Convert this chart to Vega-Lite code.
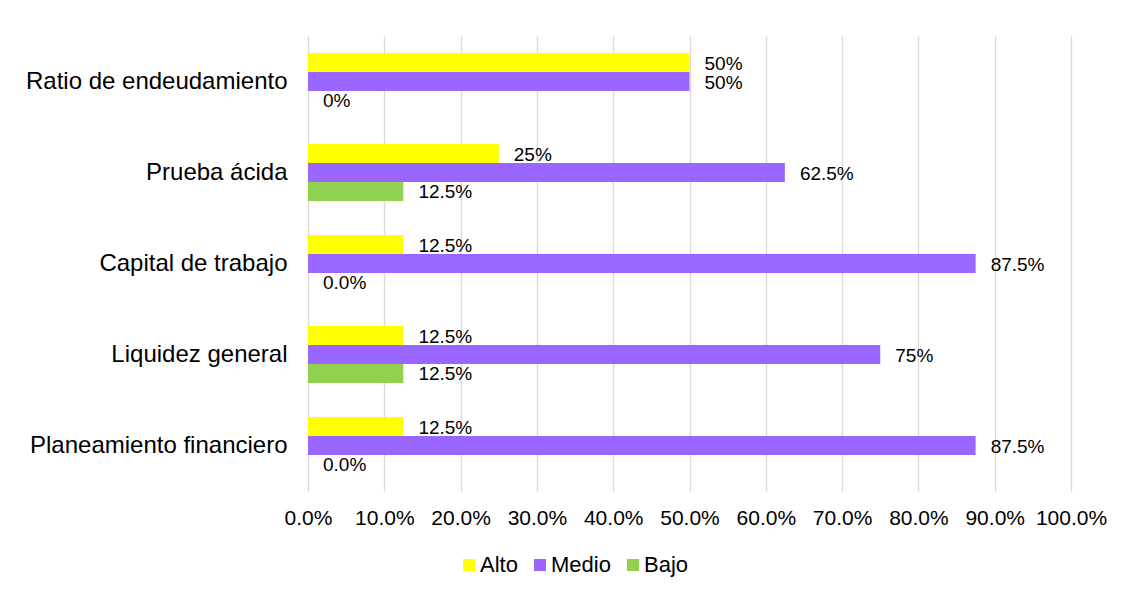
{
  "$schema": "https://vega.github.io/schema/vega-lite/v6.json",
  "width": 763,
  "height": 455,
  "autosize": {"type": "none"},
  "padding": {"left": 308, "top": 36, "right": 60, "bottom": 105},
  "background": "white",
  "config": {"view": {"stroke": null}, "font": "Liberation Sans"},
  "data": {
    "values": [
      {"categoria": "Ratio de endeudamiento", "nivel": "Alto", "valor": 0.5, "etiqueta": "50%"},
      {"categoria": "Ratio de endeudamiento", "nivel": "Medio", "valor": 0.5, "etiqueta": "50%"},
      {"categoria": "Ratio de endeudamiento", "nivel": "Bajo", "valor": 0, "etiqueta": "0%"},
      {"categoria": "Prueba ácida", "nivel": "Alto", "valor": 0.25, "etiqueta": "25%"},
      {"categoria": "Prueba ácida", "nivel": "Medio", "valor": 0.625, "etiqueta": "62.5%"},
      {"categoria": "Prueba ácida", "nivel": "Bajo", "valor": 0.125, "etiqueta": "12.5%"},
      {"categoria": "Capital de trabajo", "nivel": "Alto", "valor": 0.125, "etiqueta": "12.5%"},
      {"categoria": "Capital de trabajo", "nivel": "Medio", "valor": 0.875, "etiqueta": "87.5%"},
      {"categoria": "Capital de trabajo", "nivel": "Bajo", "valor": 0, "etiqueta": "0.0%"},
      {"categoria": "Liquidez general", "nivel": "Alto", "valor": 0.125, "etiqueta": "12.5%"},
      {"categoria": "Liquidez general", "nivel": "Medio", "valor": 0.75, "etiqueta": "75%"},
      {"categoria": "Liquidez general", "nivel": "Bajo", "valor": 0.125, "etiqueta": "12.5%"},
      {"categoria": "Planeamiento financiero", "nivel": "Alto", "valor": 0.125, "etiqueta": "12.5%"},
      {"categoria": "Planeamiento financiero", "nivel": "Medio", "valor": 0.875, "etiqueta": "87.5%"},
      {"categoria": "Planeamiento financiero", "nivel": "Bajo", "valor": 0, "etiqueta": "0.0%"}
    ]
  },
  "encoding": {
    "y": {
      "field": "categoria",
      "type": "nominal",
      "sort": ["Ratio de endeudamiento", "Prueba ácida", "Capital de trabajo", "Liquidez general", "Planeamiento financiero"],
      "scale": {"paddingInner": 0.374, "paddingOuter": 0.187},
      "axis": {
        "title": null,
        "domain": false,
        "ticks": false,
        "grid": false,
        "labelFontSize": 24,
        "labelColor": "black",
        "labelPadding": 21,
        "labelLimit": 400
      }
    },
    "yOffset": {
      "field": "nivel",
      "type": "nominal",
      "sort": ["Alto", "Medio", "Bajo"],
      "scale": {"paddingInner": 0, "paddingOuter": 0}
    },
    "x": {
      "field": "valor",
      "type": "quantitative",
      "scale": {"domain": [0, 1], "nice": false},
      "axis": {
        "title": null,
        "values": [0, 0.1, 0.2, 0.3, 0.4, 0.5, 0.6, 0.7, 0.8, 0.9, 1],
        "format": ".1%",
        "domain": false,
        "ticks": false,
        "grid": true,
        "gridColor": "#d9d9d9",
        "gridWidth": 1.3,
        "labelFontSize": 21,
        "labelColor": "black",
        "labelPadding": 16,
        "labelFlush": false,
        "labelOverlap": false
      }
    }
  },
  "layer": [
    {
      "mark": {"type": "bar"},
      "encoding": {
        "color": {
          "field": "nivel",
          "type": "nominal",
          "sort": ["Alto", "Medio", "Bajo"],
          "scale": {"domain": ["Alto", "Medio", "Bajo"], "range": ["#FFFF00", "#9966FF", "#92D050"]},
          "legend": {
            "title": null,
            "orient": "none",
            "direction": "horizontal",
            "legendX": 150,
            "legendY": 518,
            "symbolType": "square",
            "symbolSize": 144,
            "symbolStrokeWidth": 0,
            "labelFontSize": 22,
            "labelColor": "black",
            "labelOffset": 0,
            "columnPadding": 11
          }
        }
      }
    },
    {
      "mark": {"type": "text", "align": "left", "baseline": "middle", "dx": 15, "dy": 1, "fontSize": 19, "color": "black"},
      "encoding": {"text": {"field": "etiqueta", "type": "nominal"}}
    }
  ]
}
